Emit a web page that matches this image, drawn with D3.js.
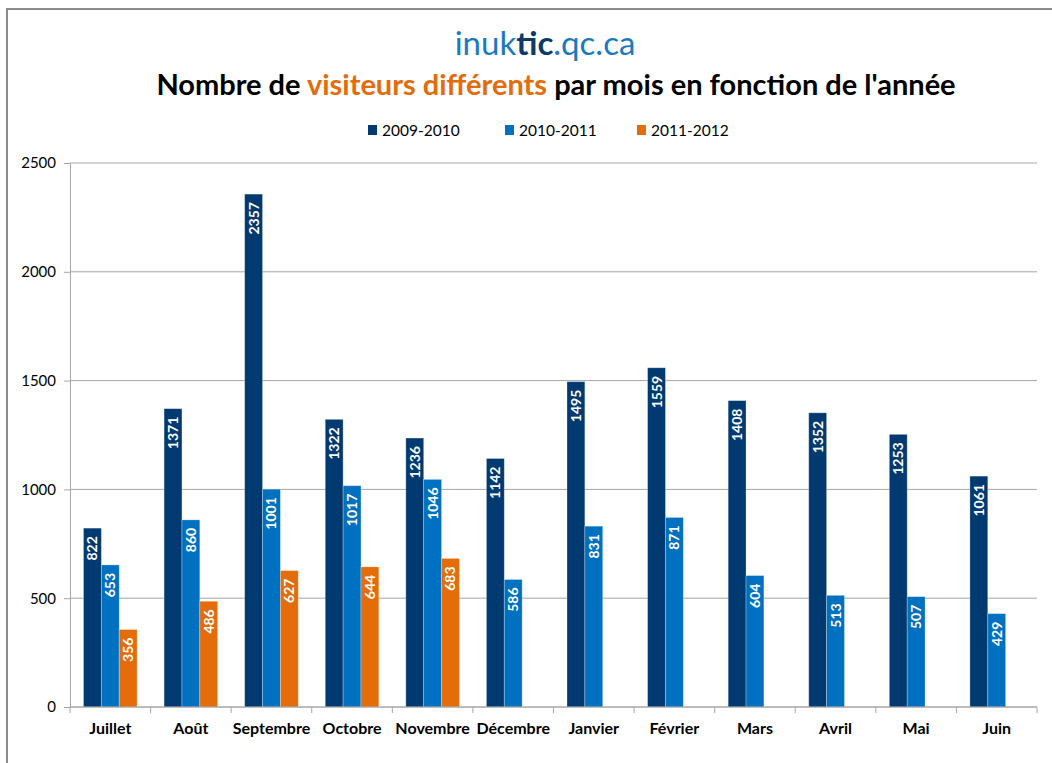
<!DOCTYPE html>
<html>
<head>
<meta charset="utf-8">
<script src="https://cdn.jsdelivr.net/npm/d3@7"></script>
<style>
  body { margin: 0; background: #fff; }
  svg { display: block; font-family: Lato, "Open Sans", sans-serif; }
</style>
</head>
<body>
<svg id="chart" width="1052" height="763"></svg>
<script>
// months and values per school year
var months = ['Juillet', 'Août', 'Septembre', 'Octobre', 'Novembre', 'Décembre',
              'Janvier', 'Février', 'Mars', 'Avril', 'Mai', 'Juin'];
var series = ['2009-2010', '2010-2011', '2011-2012'];
var values0910 = [822, 1371, 2357, 1322, 1236, 1142, 1495, 1559, 1408, 1352, 1253, 1061];
var values1011 = [653, 860, 1001, 1017, 1046, 586, 831, 871, 604, 513, 507, 429];
var values1112 = [356, 486, 627, 644, 683];
var yTicks = [0, 500, 1000, 1500, 2000, 2500];

var colors = ['#003a70', '#0070c0', '#e46c0a'];
var allValues = [values0910, values1011, values1112];

var svg = d3.select('#chart');

// outer border of the chart
svg.append('rect')
    .attr('x', 7).attr('y', 9)
    .attr('width', 1060).attr('height', 770)
    .attr('fill', 'none')
    .attr('stroke', '#8c8c8c')
    .attr('stroke-width', 2);

var padding = {t: 163, r: 15, b: 56, l: 70};
var chartWidth = 1037 - padding.l;
var chartHeight = 707 - padding.t;

var chartG = svg.append('g')
    .attr('transform', 'translate(' + [padding.l, padding.t] + ')');

var xScale = d3.scaleBand().domain(months).range([0, chartWidth]).paddingInner(0.335).paddingOuter(0.1675);
var x1 = d3.scaleBand().domain(series).range([0, xScale.bandwidth()]);
var yScale = d3.scaleLinear().domain([0, 2500]).range([chartHeight, 0]);

// gridlines
chartG.selectAll('.grid').data(yTicks)
    .enter().append('line')
    .attr('class', 'grid')
    .attr('x1', 0).attr('x2', chartWidth)
    .attr('y1', d => yScale(d)).attr('y2', d => yScale(d))
    .attr('stroke', '#a6a6a6')
    .attr('stroke-width', 1);

// bars
var barData = [];
allValues.forEach(function(vals, si) {
    vals.forEach(function(v, mi) {
        barData.push({month: months[mi], serie: series[si], value: v, color: colors[si]});
    });
});

var bars = chartG.selectAll('.bar').data(barData).enter().append('g').attr('class', 'bar');

bars.append('rect')
    .attr('x', d => xScale(d.month) + x1(d.serie))
    .attr('y', d => yScale(d.value))
    .attr('width', x1.bandwidth())
    .attr('height', d => chartHeight - yScale(d.value))
    .attr('fill', d => d.color)
    .attr('stroke', 'rgba(255,255,255,0.35)')
    .attr('stroke-width', 0.8);

bars.append('text')
    .attr('transform', d => 'translate(' + (xScale(d.month) + x1(d.serie) + x1.bandwidth() / 2 + 5) + ',' + (yScale(d.value) + 8) + ') rotate(-90)')
    .attr('text-anchor', 'end')
    .attr('fill', '#fff')
    .style('font-size', '14px')
    .style('font-weight', 'bold')
    .text(d => d.value);

// y axis
var yAxis = d3.axisLeft(yScale).tickValues(yTicks).tickFormat(d3.format('d')).tickSize(6).tickPadding(8);
var yAxisGroup = chartG.append('g').call(yAxis);
yAxisGroup.select('.domain').attr('stroke', '#a6a6a6');
yAxisGroup.selectAll('.tick line').attr('stroke', '#a6a6a6');
yAxisGroup.selectAll('.tick text')
    .attr('fill', '#000')
    .style('font-size', '15px')
    .style('font-family', 'Lato, sans-serif');

// x axis with ticks between categories
var xAxisGroup = chartG.append('g').attr('transform', 'translate(0,' + chartHeight + ')');
xAxisGroup.append('line')
    .attr('x1', 0).attr('x2', chartWidth)
    .attr('stroke', '#a6a6a6');
var boundaries = d3.range(months.length + 1).map(i => i * chartWidth / months.length);
xAxisGroup.selectAll('.xtick').data(boundaries).enter().append('line')
    .attr('x1', d => d).attr('x2', d => d)
    .attr('y1', 0).attr('y2', 6)
    .attr('stroke', '#a6a6a6');
xAxisGroup.selectAll('.xlabel').data(months).enter().append('text')
    .attr('x', d => xScale(d) + xScale.bandwidth() / 2)
    .attr('y', 27)
    .attr('text-anchor', 'middle')
    .style('font-size', '16px')
    .style('font-weight', 'bold')
    .text(d => d);

// titles
var site = svg.append('text')
    .attr('x', 545).attr('y', 55)
    .attr('text-anchor', 'middle')
    .style('font-size', '33px')
    .attr('fill', '#1a7abf');
site.append('tspan').text('inuk');
site.append('tspan').text('tic').style('font-weight', 'bold').attr('fill', '#0d3a6b');
site.append('tspan').text('.qc.ca');

var title = svg.append('text')
    .attr('x', 556).attr('y', 95)
    .attr('text-anchor', 'middle')
    .style('font-size', '29px')
    .style('font-weight', 'bold')
    .attr('fill', '#000');
title.append('tspan').text('Nombre de ');
title.append('tspan').text('visiteurs différents').attr('fill', '#e46c0a');
title.append('tspan').text(' par mois en fonction de l\'année');

// legend
var legendX = [368, 505, 637];
var legend = svg.selectAll('.legend-items').data(series).enter().append('g')
    .attr('class', 'legend-items')
    .attr('transform', (d, i) => 'translate(' + legendX[i] + ',130)');
legend.append('rect')
    .attr('x', 0).attr('y', -5)
    .attr('width', 9).attr('height', 10)
    .attr('fill', (d, i) => colors[i]);
legend.append('text')
    .attr('x', 14).attr('y', 5.5)
    .style('font-size', '15.5px')
    .text(d => d);
</script>
</body>
</html>
